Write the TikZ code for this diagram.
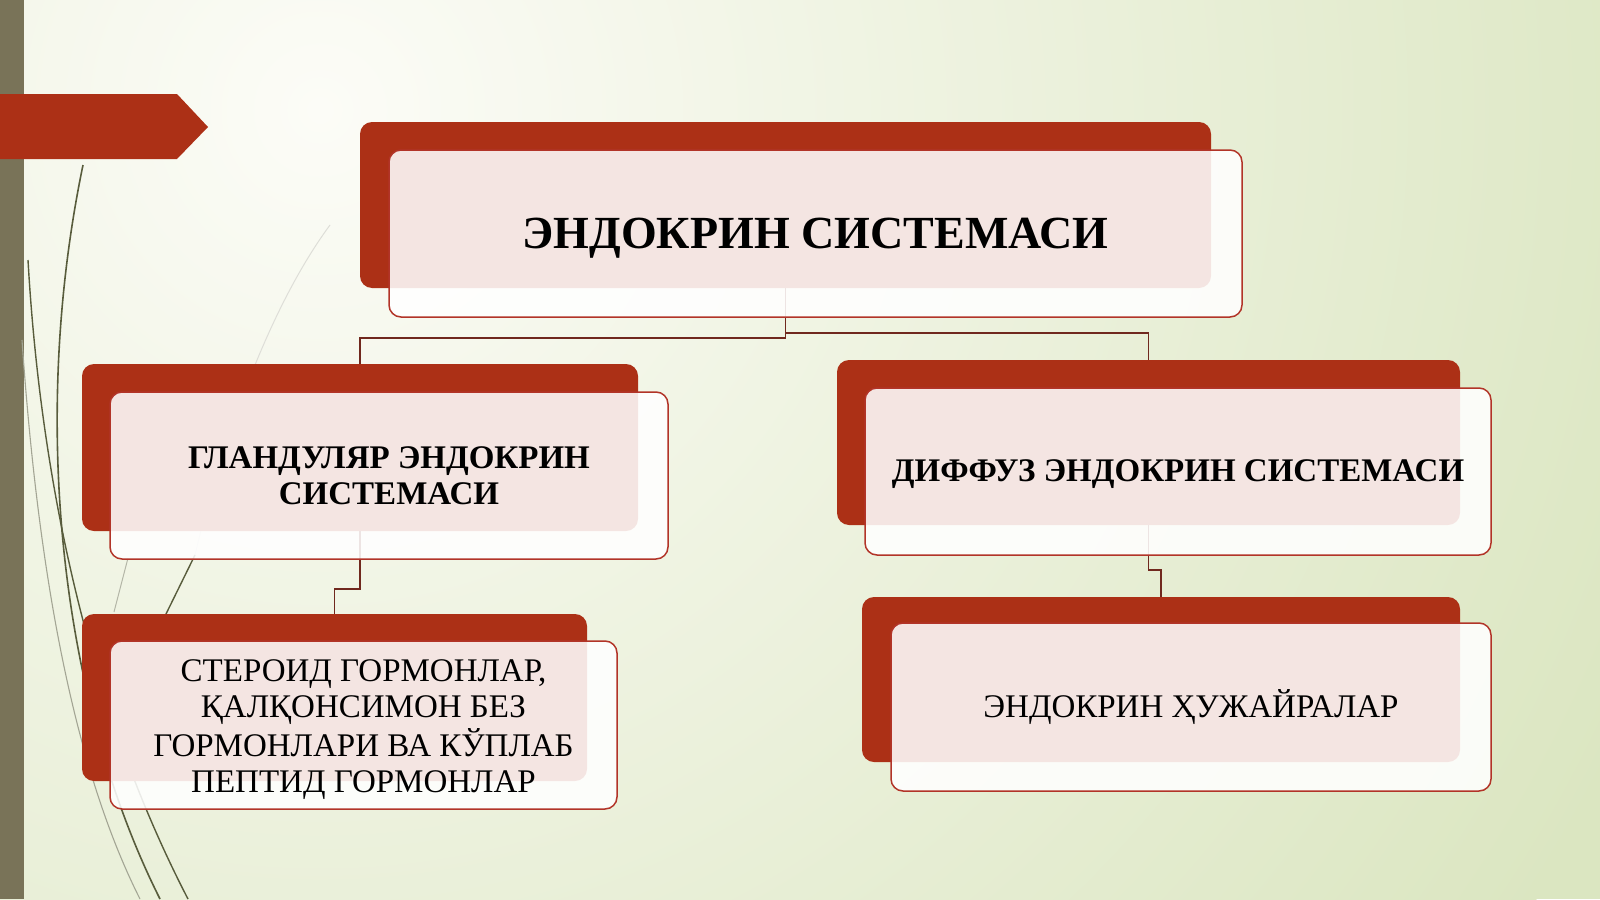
\documentclass[tikz,border=0pt]{standalone}
\usepackage{fontspec}
\setmainfont{Liberation Serif}
\definecolor{bgwhite}{RGB}{252,252,247}
\definecolor{bggreen}{RGB}{219,230,193}
\definecolor{barcol}{RGB}{121,115,88}
\definecolor{boxred}{RGB}{172,48,22}
\definecolor{edgered}{RGB}{178,52,40}
\definecolor{conncol}{RGB}{112,40,30}
\definecolor{grass}{RGB}{88,92,60}
\tikzset{
  backbox/.style={fill=boxred, rounded corners=12pt, inner sep=0pt, outer sep=0pt, anchor=north west},
  frontbox/.style={fill=white, fill opacity=0.88, text opacity=1, draw=edgered, line width=1.5pt,
     rounded corners=12pt, inner sep=0pt, outer sep=0pt, anchor=north west, align=center,
     font=\fontsize{33}{36}\selectfont},
  conn/.style={draw=conncol, line width=1.6pt},
  grassline/.style={draw=grass, line width=1.6pt},
}
\begin{document}
\begin{tikzpicture}[x=1pt,y=-1pt]
\useasboundingbox (0,0) rectangle (1600,899);
% background
\begin{scope}
\clip (0,0) rectangle (1600,899);
\fill[bggreen] (0,0) rectangle (1600,899);
\shade[inner color=bgwhite, outer color=bggreen] (320,110) circle (1450);
\end{scope}
% left bar
\fill[barcol] (0,0) rectangle (24,899);
% grass lines
\draw[grassline] (83,165) .. controls (30,420) and (60,700) .. (160,899);
\draw[grassline, line width=1.4pt] (28,260) .. controls (40,470) and (85,700) .. (188,899);
\draw[draw=grass!55, line width=1.1pt] (22,340) .. controls (40,600) and (80,780) .. (140,899);
\draw[draw=white!80!grass, line width=1pt] (330,225) .. controls (260,320) and (215,470) .. (195,555);
\draw[grassline, line width=1.4pt] (195,555) -- (166,614);
\draw[draw=grass!45, line width=1pt] (128,558) -- (114,612);
% red arrow
\fill[boxred] (0,94) -- (177,94) -- (208,127) -- (177,159) -- (0,159) -- cycle;
% back boxes
\node[backbox, minimum width=851pt, minimum height=166pt] (b1) at (360,122) {};
\node[backbox, minimum width=556pt, minimum height=167pt] (b2) at (82,364) {};
\node[backbox, minimum width=623pt, minimum height=165pt] (b3) at (837,360) {};
\node[backbox, minimum width=505pt, minimum height=167pt] (b4) at (82,614) {};
\node[backbox, minimum width=598pt, minimum height=165pt] (b5) at (862,597) {};
% connectors
\draw[conn] (b1.south) -- ++(0,50) -| (b2.north);
\draw[conn] (b1.south) -- ++(0,45) -| (b3.north);
\draw[conn] (b2.south) -- ++(0,58) -| (b4.north);
\draw[conn] (b3.south) -- ++(0,45) -| (b5.north);
% front boxes
\node[frontbox, minimum width=853pt, minimum height=167pt, font=\fontsize{46}{50}\selectfont\bfseries] (f1) at (389,150) {\raisebox{-5pt}[\height][\depth]{ЭНДОКРИН СИСТЕМАСИ}};
\node[frontbox, minimum width=558pt, minimum height=167pt, font=\fontsize{33}{36}\selectfont\bfseries] (f2) at (110,392) {ГЛАНДУЛЯР ЭНДОКРИН\\СИСТЕМАСИ};
\node[frontbox, minimum width=626pt, minimum height=167pt, font=\fontsize{33}{36}\selectfont\bfseries] (f3) at (865,388) {\raisebox{-3pt}[\height][\depth]{ДИФФУЗ ЭНДОКРИН СИСТЕМАСИ}};
\node[frontbox, minimum width=507pt, minimum height=168pt] (f4) at (110,641) {\raisebox{-5pt}[\height][\depth]{\begin{tabular}{@{}c@{}}СТЕРОИД ГОРМОНЛАР,\\ҚАЛҚОНСИМОН БЕЗ\\ГОРМОНЛАРИ ВА КЎПЛАБ\\ПЕПТИД ГОРМОНЛАР\end{tabular}}};
\node[frontbox, minimum width=600pt, minimum height=168pt] (f5) at (891,623) {ЭНДОКРИН ҲУЖАЙРАЛАР};
\end{tikzpicture}
\end{document}
